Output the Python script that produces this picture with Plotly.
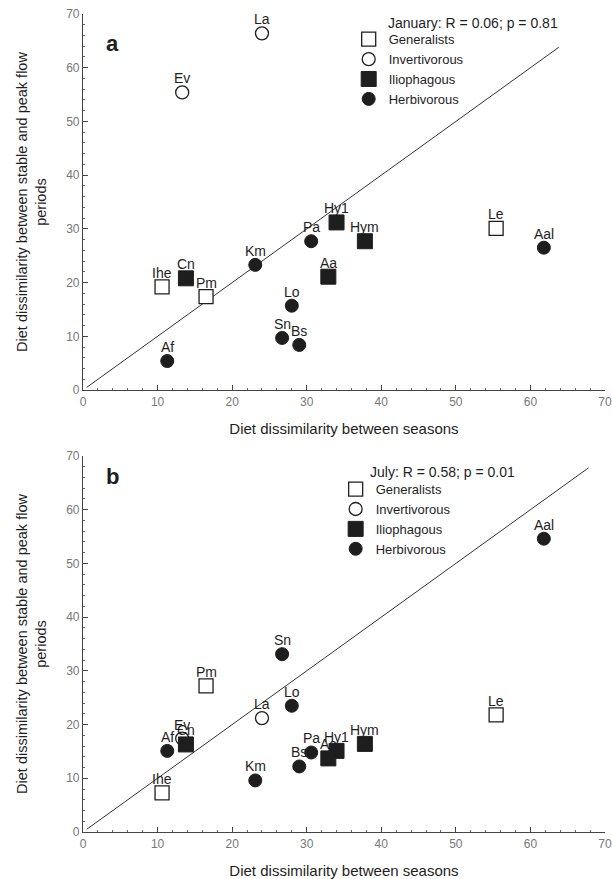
import plotly.graph_objects as go

# ---------------- data ----------------
species = ["Ihe", "Pm", "Le", "Ev", "La", "Cn", "Hy1", "Hym", "Aa",
           "Km", "Pa", "Lo", "Sn", "Bs", "Af", "Aal"]
groups = ["Generalists", "Generalists", "Generalists",
          "Invertivorous", "Invertivorous",
          "Iliophagous", "Iliophagous", "Iliophagous", "Iliophagous",
          "Herbivorous", "Herbivorous", "Herbivorous", "Herbivorous",
          "Herbivorous", "Herbivorous", "Herbivorous"]
# diet dissimilarity between seasons (x)
x_seasons = [10.6, 16.5, 55.4, 13.3, 24.0, 13.8, 34.0, 37.8, 32.9,
             23.1, 30.6, 28.0, 26.7, 29.0, 11.3, 61.8]
# diet dissimilarity between stable and peak flow periods (y)
y_january = [19.2, 17.4, 30.1, 55.4, 66.4, 20.8, 31.2, 27.7, 21.1,
             23.3, 27.7, 15.7, 9.7, 8.4, 5.4, 26.5]
y_july = [7.3, 27.2, 21.8, 17.4, 21.2, 16.3, 15.1, 16.4, 13.7,
          9.6, 14.8, 23.5, 33.1, 12.2, 15.1, 54.6]
group_order = ["Generalists", "Invertivorous", "Iliophagous", "Herbivorous"]
one_to_one_jan = [0.5, 63.8]
one_to_one_jul = [0.5, 67.8]
stats_jan = "January: R = 0.06; p = 0.81"
stats_jul = "July: R = 0.58; p = 0.01"

# ---------------- styles ----------------
INK = "#1e1e1e"
FONT = "Liberation Sans, Arial, sans-serif"
sty = {
    "Generalists": dict(symbol="square", size=14, color="white", line=dict(color=INK, width=1.3)),
    "Invertivorous": dict(symbol="circle", size=13, color="white", line=dict(color=INK, width=1.3)),
    "Iliophagous": dict(symbol="square", size=15, color=INK, line=dict(color=INK, width=1)),
    "Herbivorous": dict(symbol="circle", size=13, color=INK, line=dict(color=INK, width=1)),
}

fig = go.Figure()
annotations = []

panels = [("x", "y", y_january, one_to_one_jan, "legend"),
          ("x2", "y2", y_july, one_to_one_jul, "legend2")]
for xa, ya, yvals, diag, leg in panels:
    fig.add_trace(go.Scatter(x=diag, y=diag, mode="lines", xaxis=xa, yaxis=ya,
                             line=dict(color="#333", width=1), showlegend=False,
                             hoverinfo="skip"))
    for g in group_order:
        idx = [i for i, gg in enumerate(groups) if gg == g]
        fig.add_trace(go.Scatter(
            x=[x_seasons[i] for i in idx], y=[yvals[i] for i in idx],
            text=[species[i] for i in idx], mode="markers",
            marker=sty[g], name=g, xaxis=xa, yaxis=ya, legend=leg,
            cliponaxis=False))
    # species labels just above the markers
    for i, sp in enumerate(species):
        annotations.append(dict(text=sp, x=x_seasons[i], y=yvals[i], xref=xa, yref=ya,
                                yshift=14, showarrow=False, yanchor="middle",
                                font=dict(family=FONT, size=14, color=INK)))

ax_common = dict(range=[0, 70], dtick=10, showline=True, linecolor="#444", linewidth=1.2,
                 ticks="inside", ticklen=5, tickcolor="#444", showgrid=False, zeroline=False,
                 automargin=False,
                 tickfont=dict(family=FONT, size=12, color="#777"),
                 minor=dict(ticks="inside", ticklen=2, dtick=2, tickcolor="#666"))
xt = dict(text="Diet dissimilarity between seasons", font=dict(family=FONT, size=15, color=INK), standoff=15)
yt = dict(text="Diet dissimilarity between stable and peak flow<br>periods",
          font=dict(family=FONT, size=14.5, color=INK), standoff=16)

legend_common = dict(font=dict(family=FONT, size=13, color=INK), bgcolor="rgba(0,0,0,0)",
                     xanchor="left", yanchor="top", itemwidth=30, tracegroupgap=0,
                     itemclick=False)

annotations += [
    dict(text="<b>a</b>", x=4.0, y=64.5, xref="x", yref="y", showarrow=False,
         font=dict(family=FONT, size=22, color=INK)),
    dict(text="<b>b</b>", x=4.0, y=66.2, xref="x2", yref="y2", showarrow=False,
         font=dict(family=FONT, size=22, color=INK)),
    dict(text=stats_jan, x=40.6, y=68.3, xref="x", yref="y", showarrow=False,
         xanchor="left", font=dict(family=FONT, size=14, color=INK)),
    dict(text=stats_jul, x=38.2, y=67.0, xref="x2", yref="y2", showarrow=False,
         xanchor="left", font=dict(family=FONT, size=14, color=INK)),
]

fig.update_layout(
    width=612, height=879,
    margin=dict(l=83, r=7, t=14, b=47, autoexpand=False),
    paper_bgcolor="white", plot_bgcolor="white",
    xaxis=dict(domain=[0, 1], anchor="y", title=xt, **ax_common),
    yaxis=dict(domain=[0.5403, 1], anchor="x", title=yt, **ax_common),
    xaxis2=dict(domain=[0, 1], anchor="y2", title=xt, **ax_common),
    yaxis2=dict(domain=[0, 0.4597], anchor="x2", title=yt, **ax_common),
    legend=dict(x=0.509, y=0.9875, **legend_common),
    legend2=dict(x=0.484, y=0.4375, **legend_common),
    annotations=annotations,
)

# remove the browser's default 8px body margin so the figure sits at the page origin
fig.write_html("out.html", config=dict(displayModeBar=False),
               post_script="document.body.style.margin='0px';")
